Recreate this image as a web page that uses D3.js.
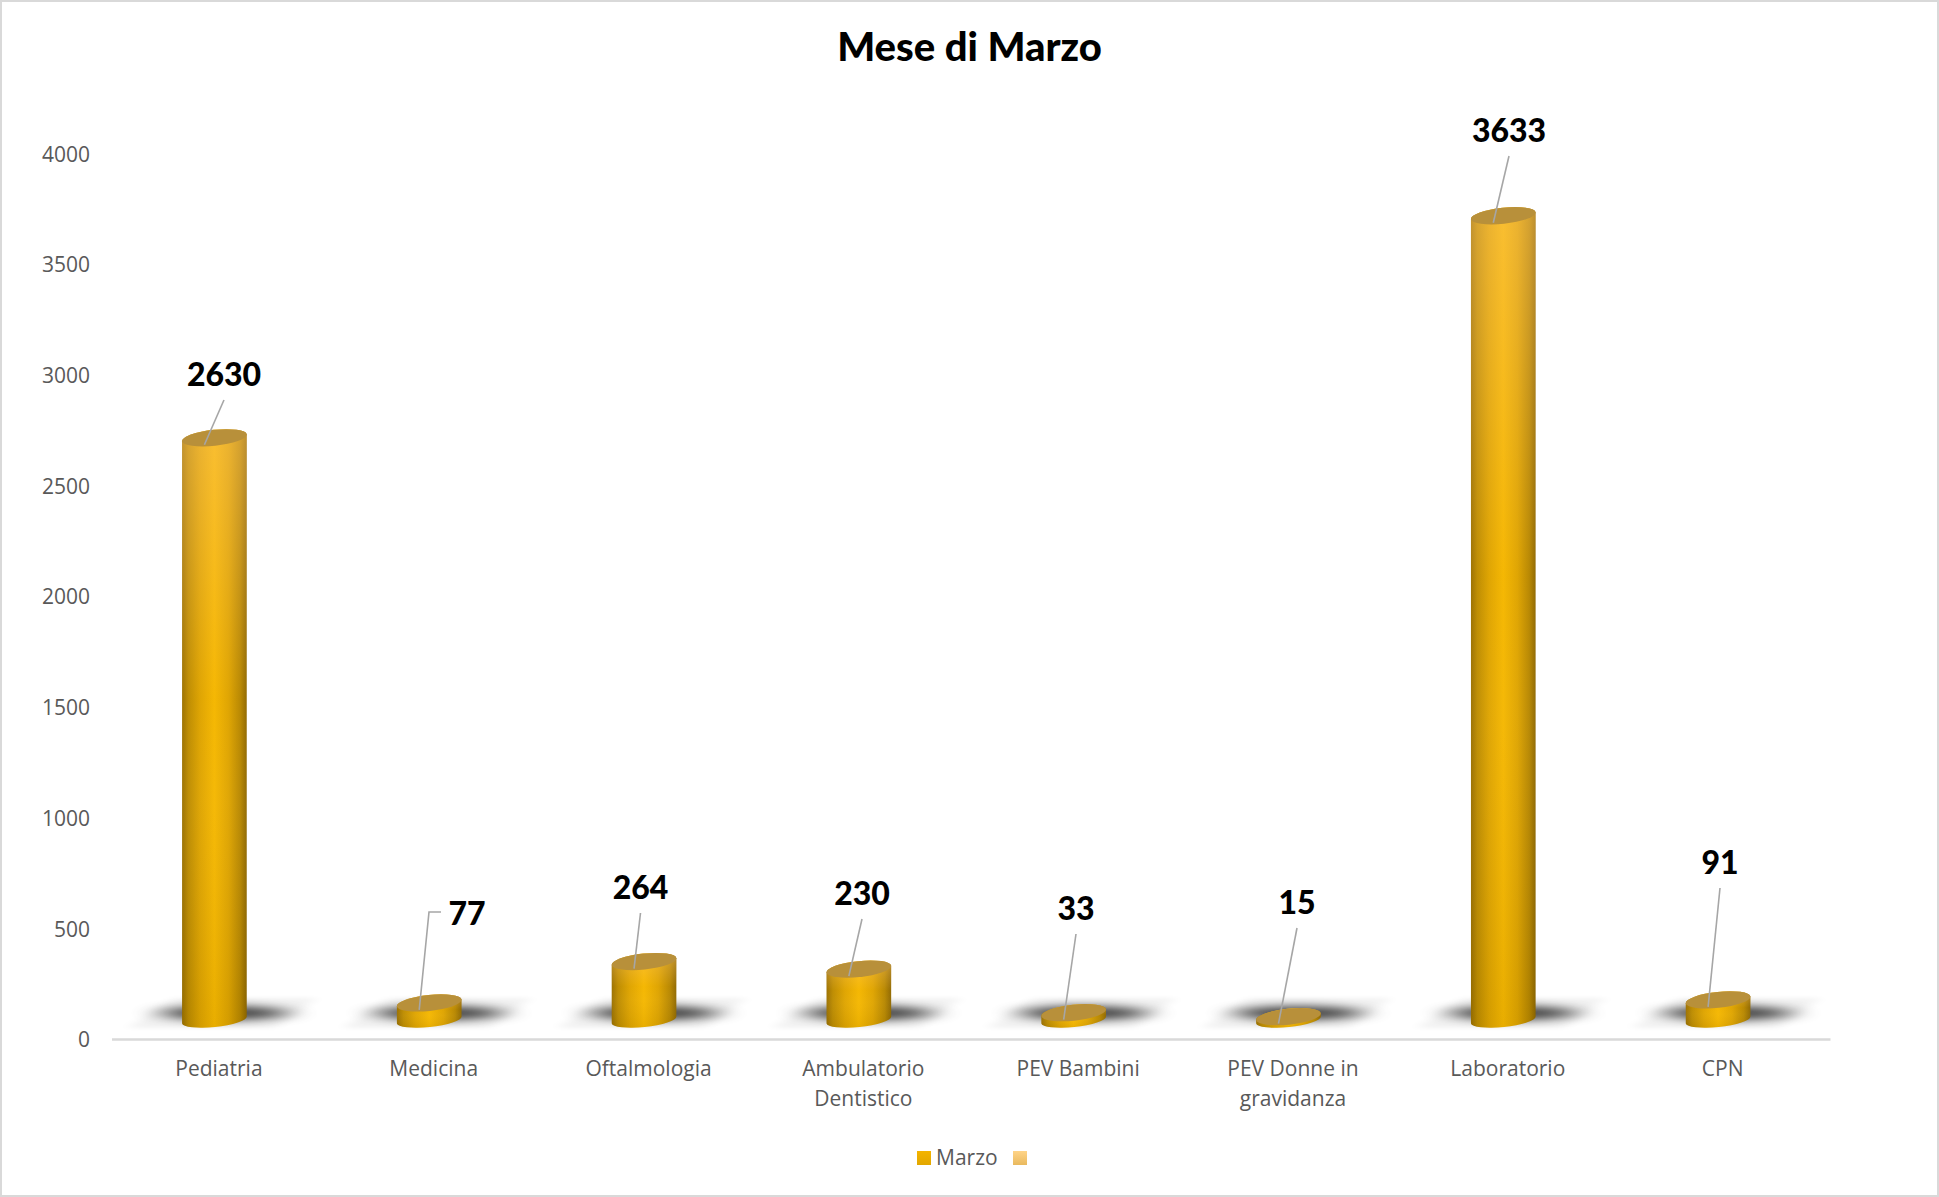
<!DOCTYPE html>
<html><head><meta charset="utf-8">
<script src="https://cdn.jsdelivr.net/npm/d3@7"></script>
<style>html,body{margin:0;padding:0;background:#fff}svg{display:block}</style>
</head><body><svg id="c" width="1939" height="1197"></svg>
<script>
const categories = ["Pediatria","Medicina","Oftalmologia","Ambulatorio Dentistico","PEV Bambini","PEV Donne in gravidanza","Laboratorio","CPN"];
const values = [2630,77,264,230,33,15,3633,91];
const yTicks = [0,500,1000,1500,2000,2500,3000,3500,4000];
const legendNames = ["Marzo",""];
const chartTitle = "Mese di Marzo";

const W=1939,H=1197, baseAxis=1039, baseCyl=1020, top4000=153.5;
const svg=d3.select("#c");
const sans="'Open Sans',sans-serif", bold="Lato,sans-serif";
const defs=svg.append("defs");

const side=defs.append("linearGradient").attr("id","side").attr("x1",0).attr("x2",1).attr("y1",0).attr("y2",0);
[[0,"#9a7000"],[.1,"#bd8c00"],[.28,"#dea400"],[.5,"#f5b700"],[.72,"#dea400"],[.9,"#b78700"],[1,"#8f6800"]]
 .forEach(s=>side.append("stop").attr("offset",s[0]).attr("stop-color",s[1]));
const shade=defs.append("linearGradient").attr("id","shade").attr("x1",0).attr("x2",0).attr("y1",0).attr("y2",1);
[[0,"#ffc878",.42],[.45,"#ffc878",.03],[.62,"#ffffff",.03],[1,"#000000",.05]]
 .forEach(s=>shade.append("stop").attr("offset",s[0]).attr("stop-color",s[1]).attr("stop-opacity",s[2]));
const lg1=defs.append("linearGradient").attr("id","lg1").attr("x1",0).attr("x2",0).attr("y1",0).attr("y2",1);
[[0,"#f4b400"],[1,"#e2a700"]].forEach(s=>lg1.append("stop").attr("offset",s[0]).attr("stop-color",s[1]));
const lg2=defs.append("linearGradient").attr("id","lg2").attr("x1",0).attr("x2",0).attr("y1",0).attr("y2",1);
[[0,"#ffd488"],[1,"#e9b95e"]].forEach(s=>lg2.append("stop").attr("offset",s[0]).attr("stop-color",s[1]));
defs.append("filter").attr("id","bl1").attr("x","-60%").attr("y","-200%").attr("width","220%").attr("height","500%")
 .append("feGaussianBlur").attr("stdDeviation","15 4");
defs.append("filter").attr("id","bl2").attr("x","-30%").attr("y","-50%").attr("width","160%").attr("height","200%")
 .append("feGaussianBlur").attr("stdDeviation","7 2");

svg.append("rect").attr("x",1).attr("y",1).attr("width",W-2).attr("height",H-2).attr("fill","#fff").attr("stroke","#d9d9d9").attr("stroke-width",2);

svg.append("text").attr("x",969.5).attr("y",61).attr("text-anchor","middle")
 .style("font",`900 40px ${bold}`).attr("fill","#000").text(chartTitle);

const x=d3.scaleBand().domain(categories).range([111.5,1830]);
const yAxisScale=d3.scaleLinear().domain([0,4000]).range([baseAxis,top4000]);
const yCyl=d3.scaleLinear().domain([0,4000]).range([baseCyl,baseCyl-(baseAxis-top4000)]);

const gy=svg.append("g").attr("transform","translate(98,1)").call(d3.axisLeft(yAxisScale).tickValues(yTicks).tickSize(0).tickPadding(8).tickFormat(d3.format("d")));
gy.select(".domain").remove();
gy.selectAll("text").style("font",`400 21px ${sans}`).attr("fill","#595959");

const gx=svg.append("g").attr("transform",`translate(0,${baseAxis})`).call(d3.axisBottom(x).tickSize(0).tickPadding(0));
gx.select(".domain").attr("stroke","#d9d9d9").attr("stroke-width",2.5);
gx.selectAll("text").style("font",`400 21px ${sans}`).attr("fill","#595959").attr("y",0).attr("dy",0)
 .each(function(d){
   const t=d3.select(this); t.text(null);
   const words=d.split(" "); let line=[], ln=0;
   let ts=t.append("tspan").attr("x",0).attr("y",37);
   words.forEach(w=>{
     line.push(w); ts.text(line.join(" "));
     if(ts.node().getComputedTextLength()>175 && line.length>1){
       line.pop(); ts.text(line.join(" ")); line=[w]; ln++;
       ts=t.append("tspan").attr("x",0).attr("y",37+ln*29.7).text(w);
     }
   });
 });

const rx=32.5, ry=8, ryBase=7, rot=-6, ex=rx*Math.cos(rot*Math.PI/180), ey=-rx*Math.sin(rot*Math.PI/180);
const cxOf=c=>x(c)+x.bandwidth()/2-4.5;
const rows=categories.map((c,i)=>({c,v:values[i],i,cx:cxOf(c),ty:yCyl(values[i])}));

// floor shadows
const sh=svg.append("g");
rows.forEach(r=>{
  sh.append("path").attr("d",`M${r.cx-86},${baseCyl+8} L${r.cx-40},${baseCyl-22} L${r.cx+102},${baseCyl-22} L${r.cx+60},${baseCyl+8} Z`)
    .attr("fill","#000").attr("opacity",.05).attr("filter","url(#bl2)");
  sh.append("ellipse").attr("cx",r.cx+10).attr("cy",baseCyl-7).attr("rx",64).attr("ry",7)
    .attr("fill","#000").attr("opacity",.72).attr("filter","url(#bl1)");
});

// cylinders
const cyl=svg.append("g");
const bodyPath=r=>`M${r.cx-ex},${r.ty+ey} L${r.cx-ex},${baseCyl+ey} A${rx},${ryBase} ${rot} 0 0 ${r.cx+ex},${baseCyl-ey} L${r.cx+ex},${r.ty-ey} A${rx},${ry} ${rot} 0 0 ${r.cx-ex},${r.ty+ey} Z`;
rows.forEach(r=>{
  cyl.append("path").attr("d",bodyPath(r)).attr("fill","url(#side)");
  cyl.append("path").attr("d",bodyPath(r)).attr("fill","url(#shade)");
  cyl.append("ellipse").attr("transform",`translate(${r.cx},${r.ty}) rotate(${rot})`).attr("rx",rx).attr("ry",ry).attr("fill","#b8903a");
});

// data labels with leader lines
const lab=svg.append("g");
const labelCentre=[[224,374],[467,913],[640.5,887],[862,893],[1076,908],[1297,902],[1509,130],[1720,862]];
rows.forEach(r=>{
  const [lx,ly]=labelCentre[r.i];
  const ex2=r.cx-10, ey2=r.ty+7;
  const d = r.i===1 ? `M${lx-26},${ly-1} H${lx-38} L${ex2},${ey2}` : `M${lx},${ly+26} L${ex2},${ey2}`;
  lab.append("path").attr("d",d).attr("fill","none").attr("stroke","#a6a6a6").attr("stroke-width",1.6);
  lab.append("text").attr("x",lx).attr("y",ly+12).attr("text-anchor","middle").style("font",`900 32px ${bold}`).attr("fill","#000").text(r.v);
});

// legend
const lgd=svg.append("g");
const legendX=[917,1013];
legendNames.forEach((n,i)=>{
  lgd.append("rect").attr("x",legendX[i]).attr("y",1151).attr("width",14).attr("height",14).attr("fill",`url(#lg${i+1})`);
  if(n) lgd.append("text").attr("x",legendX[i]+19).attr("y",1165).style("font",`400 21px ${sans}`).attr("fill","#595959").text(n);
});
</script></body></html>
